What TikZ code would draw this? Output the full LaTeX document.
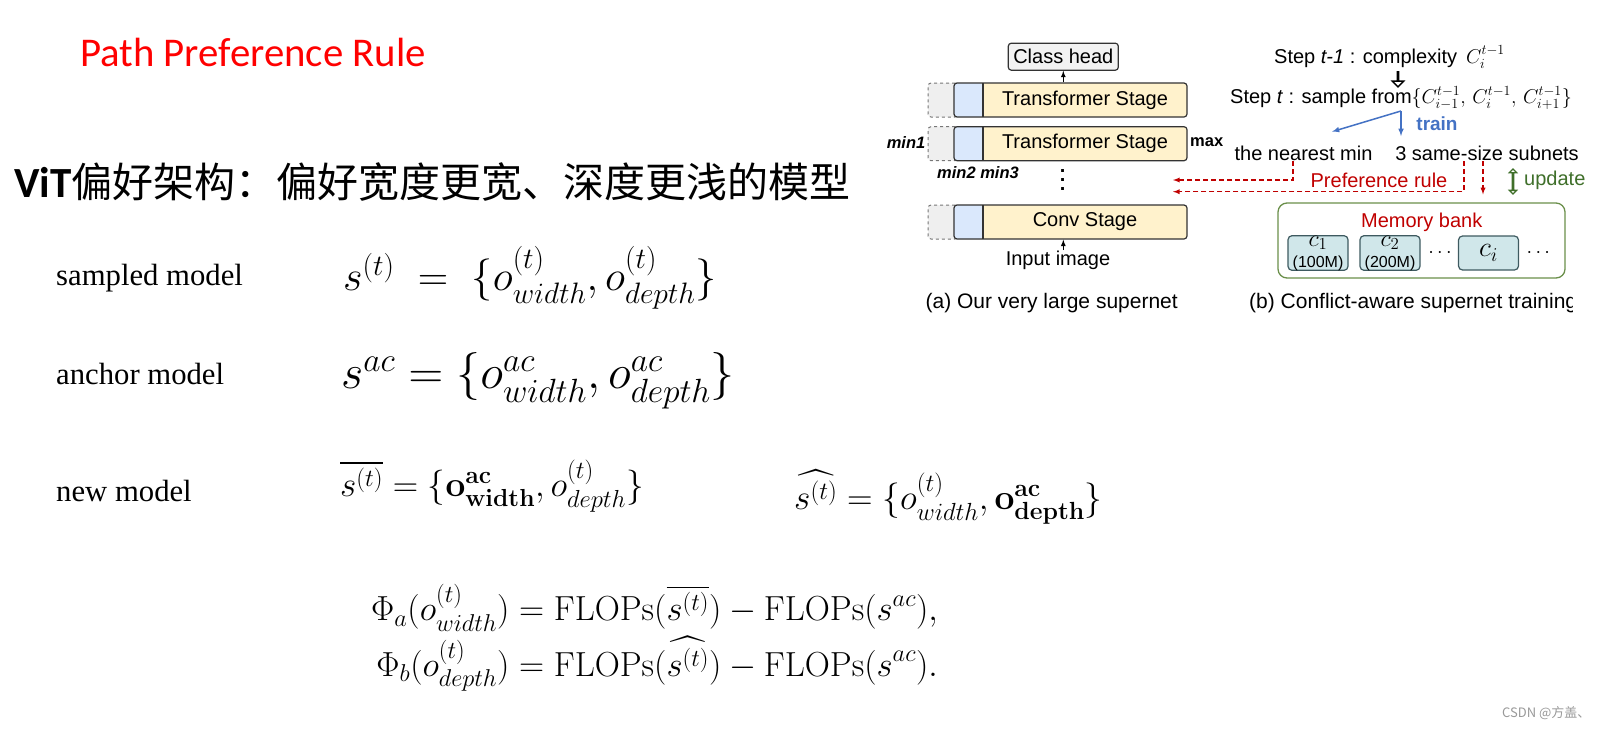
\RequirePackage{fix-cm}
\documentclass[tikz,border=0pt]{standalone}
\usepackage{amsmath}
\usepackage{amssymb}
\usepackage[no-math]{fontspec}
\newfontfamily\arialfont{Liberation Sans}
\newfontfamily\timesfont{Liberation Serif}
\newfontfamily\calibrifont{Carlito}
\newfontfamily\cjkfont{Noto Sans CJK SC}
\usepackage{tikz}
\usetikzlibrary{arrows,positioning,shapes.arrows}
\definecolor{titlered}{HTML}{FF0000}
\definecolor{prefred}{HTML}{C00000}
\definecolor{trainblue}{HTML}{4472C4}
\definecolor{updgreen}{HTML}{3F6F2A}
\definecolor{bankgreen}{HTML}{6A8F4A}
\definecolor{stageyellow}{HTML}{FFF2CC}
\definecolor{stageblue}{HTML}{DAE8FC}
\definecolor{stageline}{HTML}{333333}
\definecolor{ghostfill}{HTML}{EFEFEF}
\definecolor{ghostline}{HTML}{777777}
\definecolor{headfill}{HTML}{F2F2F2}
\definecolor{cfill}{HTML}{D0E7EA}
\definecolor{cline}{HTML}{3E5A60}
\definecolor{markgray}{HTML}{999999}
\tikzset{diagtext/.style={inner sep=1pt,font=\arialfont\fontsize{20}{24}\selectfont},
    captext/.style={inner sep=1pt,font=\arialfont\fontsize{21}{25}\selectfont},
    modellabel/.style={anchor=base west,inner sep=0,font=\timesfont\fontsize{30.7}{36}\selectfont},
    formula/.style={anchor=west,inner sep=0},
    sizelabel/.style={inner sep=0,font=\arialfont\bfseries\fontsize{16.5}{20}\selectfont},
    minlabel/.style={inner sep=0,font=\arialfont\bfseries\itshape\fontsize{16.5}{20}\selectfont},
    ghostbox/.style={draw=ghostline,dashed,line width=1pt,fill=ghostfill,rounded corners=3pt,
        minimum width=30pt,minimum height=34pt,inner sep=0},
    stagebox/.style={diagtext,draw=stageline,line width=1.2pt,fill=stageyellow,rounded corners=3pt,
        minimum width=233pt,minimum height=34pt,inner sep=0,
        path picture={
            \fill[stageblue] (path picture bounding box.south west) rectangle ([xshift=29pt]path picture bounding box.north west);
            \draw[stageline,line width=1.2pt] ([xshift=29pt]path picture bounding box.south west) -- ([xshift=29pt]path picture bounding box.north west);
        }},
    headbox/.style={diagtext,draw=stageline,line width=1.2pt,fill=headfill,rounded corners=3pt,
        minimum width=110pt,minimum height=27pt,inner sep=0},
    smallarrow/.style={-latex,line width=1.2pt},
    trainarrow/.style={-latex,trainblue,line width=1.5pt},
    prefarrow/.style={-latex,prefred,line width=1.3pt,dash pattern=on 5pt off 3pt},
    hollowarrow/.style={single arrow,draw,fill=white,line width=1.4pt,shape border rotate=270,
        minimum height=15pt,minimum width=8pt,single arrow head extend=5pt,inner sep=0},
    updatearrow/.style={double arrow,draw=updgreen,fill=white,line width=1.3pt,shape border rotate=90,
        minimum height=25pt,minimum width=6pt,double arrow head extend=3pt,inner sep=0},
    bankbox/.style={draw=bankgreen,line width=1.3pt,rounded corners=9pt,minimum width=287pt,minimum height=75pt},
    cbox/.style={diagtext,draw=cline,line width=1.2pt,fill=cfill,rounded corners=4pt,
        minimum width=60pt,minimum height=34pt,inner sep=0,align=center}
}
\newcommand{\supernetstage}[3]
{
% args: (name, y of the stage, text in the stage)
    \node (#1ghost) at (943,#2) [ghostbox] {};
    \node (#1) at (1070.5,#2) [stagebox] {\hspace*{29pt}#3};
}

\begin{document}
\begin{tikzpicture}[x=1pt,y=-1pt]
\useasboundingbox (0,0) rectangle (1607,734);

% heading
\node (title) at (80,66) [anchor=base west,inner sep=0,text=titlered,font=\calibrifont\fontsize{40.8}{48}\selectfont] {Path Preference Rule};
\node (vitline) at (14,197) [anchor=base west,inner sep=0,font=\fontsize{41}{50}\selectfont] {{\calibrifont\bfseries\fontsize{43}{50}\selectfont ViT}\cjkfont 偏好架构：偏好宽度更宽、深度更浅的模型};

% models
\node (sampledlbl) at (56,285) [modellabel] {sampled model};
\node (anchorlbl) at (56,384) [modellabel] {anchor model};
\node (newlbl) at (56,501) [modellabel] {new model};

\node (sampledeq) at (343,278) [formula,font=\fontsize{42.2}{48}\selectfont] {$s^{(t)} \;=\; \{o^{(t)}_{width}, o^{(t)}_{depth}\}$};
\node (anchoreq) at (341,381) [formula,font=\fontsize{48}{52}\selectfont] {$s^{ac} = \{o^{ac}_{width}, o^{ac}_{depth}\}$};
\node (bareq) at (340,486) [formula,font=\fontsize{35.2}{40}\selectfont] {$\overline{s^{(t)}} = \{\mathbf{o}^{\mathbf{ac}}_{\mathbf{width}}, o^{(t)}_{depth}\}$};
\node (hateq) at (794,497) [formula,font=\fontsize{35.4}{40}\selectfont] {$\widehat{s^{(t)}} = \{o^{(t)}_{width}, \mathbf{o}^{\mathbf{ac}}_{\mathbf{depth}}\}$};

\node (phieq) at (371,638) [formula,font=\fontsize{34.8}{40}\selectfont] {$\begin{aligned}
    \Phi_a(o^{(t)}_{width}) &= \mathrm{FLOPs}(\overline{s^{(t)}}) - \mathrm{FLOPs}(s^{ac}),\\
    \Phi_b(o^{(t)}_{depth}) &= \mathrm{FLOPs}(\widehat{s^{(t)}}) - \mathrm{FLOPs}(s^{ac}).
\end{aligned}$};

% (a) supernet
\node (head) at (1063.3,56.7) [headbox] {Class head};

\supernetstage{stageA}{100}{Transformer Stage}
\supernetstage{stageB}{143.7}{Transformer Stage}
\supernetstage{conv}{222}{Conv Stage}

\draw [smallarrow] (stageA.north -| head) -- (head.south);

\node (min1) at (906,143) [minlabel] {min1};
\node (maxlbl) at (1190,141.7) [sizelabel,anchor=west] {max};
\node (min23) at (937,172.7) [minlabel,anchor=west] {min2 min3};

\node (vdots) at (1062.7,180) [diagtext,align=center,font=\arialfont\bfseries\fontsize{20}{9}\selectfont] {.\\.\\.};

\node (input) at (1058,260.7) [diagtext] {Input image};
\draw [smallarrow] (input.north -| head) -- (conv.south -| head);

\node (capa) at (1051.7,303) [captext] {(a) Our very large supernet};

% (b) training
\node (steptm) at (1273,63) [diagtext,anchor=base west] {Step \textit{t-1} : complexity\, $C_i^{t-1}$};
\node (nextarrow) at (1398,79) [hollowarrow] {};
\node (stept) at (1229,103.5) [diagtext,anchor=base west] {Step \textit{t} : sample from$\{C_{i-1}^{t-1},\, C_i^{t-1},\, C_{i+1}^{t-1}\}$};

\coordinate (fork) at (1401,111);
\coordinate (trainL) at (1332,131.7);
\coordinate (trainD) at (1401,136);
\draw [trainarrow] (fork) -- (trainL);
\draw [trainarrow] (fork) -- (trainD);
\node (trainlbl) at (1437,130) [diagtext,anchor=base,text=trainblue,font=\arialfont\bfseries\fontsize{19}{22}\selectfont] {train};

\node (near) at (1303.5,160) [diagtext,anchor=base] {the nearest min};
\node (subnets) at (1487,160) [diagtext,anchor=base] {3 same-size subnets};

\coordinate (prefinA) at (1173,180);
\coordinate (prefinB) at (1173,191.7);
\draw [prefarrow] ([xshift=-10.5pt]near.south) |- (prefinA);
\draw [prefarrow] ([xshift=-23pt]subnets.south) |- (prefinB);
\node (preflbl) at (1379,187.5) [diagtext,anchor=base,text=prefred] {Preference rule};

\node (updarrow) at (1513,181.5) [updatearrow] {};
\node (updlbl) at (1523,185) [diagtext,anchor=base west,text=updgreen] {update};

\node (bank) at (1421.5,240.5) [bankbox] {};
\node (banklbl) at (1421.7,227) [diagtext,anchor=base,text=prefred] {Memory bank};
\draw [prefarrow] ([xshift=-4pt]subnets.south) -- ([xshift=-4pt,yshift=8pt]subnets.south |- bank.north);

\node (cA) at (1318,253) [cbox] {{\fontsize{24}{18}\selectfont$c_1$}\\[-3pt]{\fontsize{16}{16}\selectfont(100M)}};
\node (cB) at (1390,253) [cbox] {{\fontsize{24}{18}\selectfont$c_2$}\\[-3pt]{\fontsize{16}{16}\selectfont(200M)}};
\node (dotsA) at (1441.7,252.7) [diagtext] {$\cdots$};
\node (cI) at (1488.5,253) [cbox] {\fontsize{28}{28}\selectfont$c_i$};
\node (dotsB) at (1540,252.7) [diagtext] {$\cdots$};

\begin{scope}
\clip (1180,285) rectangle (1572,325);
\node (capb) at (1248,303) [captext,anchor=west] {(b) Conflict-aware supernet training};
\end{scope}

\node (mark) at (1502,713) [anchor=west,inner sep=0,text=markgray,font=\cjkfont\fontsize{13}{15}\selectfont] {CSDN @方盖、};

\end{tikzpicture}
\end{document}
